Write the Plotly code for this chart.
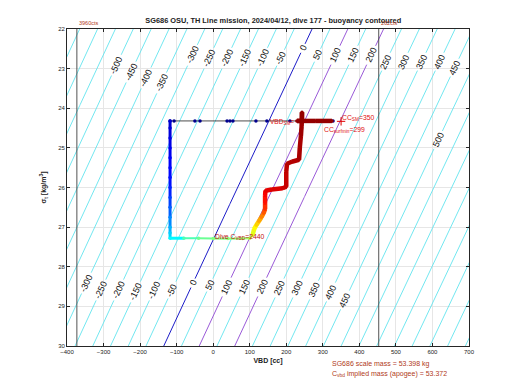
import numpy as np
import plotly.graph_objects as go
from plotly.colors import sample_colorscale

# ---------------- data ----------------
scale_mass_g = 53398.0      # glider scale mass (g)
hull_volume_cc = 51978.0    # volume at VBD = 0 (cc)

contour_levels = [-650, -600, -550, -500, -450, -400, -350, -300, -250, -200, -150, -100, -50,
                  0, 50, 100, 150, 200, 250, 300, 350, 400, 450, 500, 550, 600, 650, 700,
                  750, 800, 850, 900]

# contour label levels and the sigma at which each label sits
label_levels = [-500, -450, -400, -350, -300, -250, -200, -150, -100, -50, 0, 50, 100, 150, 200,
                250, 300, 350, 400, 450,
                -300, -250, -200, -150, -100, -50, 0, 50, 100, 150, 200, 250, 300, 350, 400, 450,
                500]
label_sigma = [22.91, 23.08, 23.24, 23.36, 22.66, 22.73, 22.73, 22.73, 22.73, 22.73, 22.48, 22.66,
               22.66, 22.66, 22.66, 22.83, 22.83, 22.83, 22.83, 22.98,
               28.41, 28.59, 28.59, 28.64, 28.59, 28.59, 28.41, 28.46, 28.51, 28.51, 28.51, 28.54,
               28.54, 28.59, 28.64, 28.84,
               24.80]

vbd_limits = [-373, 453]
vbd_limit_labels = ["3960cts", "262cts"]

# surface (start of dive): VBD bleed at the surface
surf_vbd = [328, 210, 147, 117, 54, 46, 38, -36, -50, -107, -118]
surf_sigma = [24.32, 24.32, 24.32, 24.32, 24.32, 24.32, 24.32, 24.32, 24.32, 24.32, 24.32]

# dive track after the surface bleed (vbd, sigma, normalised time)
track_vbd = [-118, -118, -118, -118, -118, -118, -118, -118, -118, -118, -118, -118, -118, -118,
             -80, -40, 0, 40, 80, 100,
             108, 112, 118, 125, 132, 138, 142, 142, 142, 143, 160, 190, 200, 200, 202, 215,
             235, 237, 240, 242, 243, 243, 229, 280, 325]
track_sigma = [24.32, 24.50, 24.75, 25.00, 25.25, 25.50, 25.75, 26.00, 26.25, 26.50, 26.75, 27.00,
               27.15, 27.28,
               27.28, 27.28, 27.29, 27.29, 27.29, 27.28,
               27.20, 27.05, 26.95, 26.85, 26.75, 26.65, 26.55, 26.40, 26.20, 26.08, 26.05, 26.02,
               25.98, 25.60, 25.40, 25.35, 25.30, 25.00, 24.70, 24.45, 24.10, 24.32, 24.32, 24.32,
               24.32]
track_time = [0.08, 0.09, 0.10, 0.11, 0.12, 0.13, 0.14, 0.16, 0.19, 0.22, 0.26, 0.30, 0.33, 0.37,
              0.45, 0.48, 0.50, 0.51, 0.52, 0.55,
              0.60, 0.63, 0.67, 0.71, 0.75, 0.79, 0.83, 0.86, 0.88, 0.90, 0.91, 0.92, 0.93, 0.94,
              0.95, 0.95, 0.96, 0.96, 0.97, 0.97, 0.98, 0.98, 0.98, 0.98, 0.98]

cc_sm = 350
cc_surfmin = 299
dive_c_vbd = 2440
apogee_implied_mass = 53.372

# ---------------- figure ----------------
JET = [[0.0, "rgb(0,0,128)"], [0.125, "rgb(0,0,255)"], [0.375, "rgb(0,255,255)"],
       [0.625, "rgb(255,255,0)"], [0.875, "rgb(255,0,0)"], [1.0, "rgb(128,0,0)"]]
LABEL_SIZE = 9.0


def vbd_of(level, sig):
    sig = np.asarray(sig, dtype=float)
    return (scale_mass_g + level) * 1000.0 / (1000.0 + sig) - hull_volume_cc


fig = go.Figure()
sig_line = np.linspace(21.5, 30.5, 361)
px_per_sigma_along = 43.8
for lev in contour_levels:
    if lev == 0:
        col, w = "#1c1cc8", 1.0
    elif lev in (100, 200):
        col, w = "#9a5ad8", 1.0
    else:
        col, w = "#62e4ee", 0.9
    xs = vbd_of(lev, sig_line).astype(float)
    for l2, s2 in zip(label_levels, label_sigma):
        if l2 == lev:
            txt = str(l2)
            length = LABEL_SIZE * (0.556 * sum(c.isdigit() for c in txt) + 0.33 * txt.count("-"))
            half = (length / 2 + 2.0) / px_per_sigma_along
            xs[np.abs(sig_line - s2) < half] = np.nan
    fig.add_trace(go.Scatter(x=xs, y=sig_line, mode="lines", connectgaps=False,
                             line=dict(color=col, width=w), hoverinfo="skip", showlegend=False))

for xv in vbd_limits:
    fig.add_trace(go.Scatter(x=[xv, xv], y=[22, 30], mode="lines",
                             line=dict(color="#404040", width=0.9), showlegend=False))

# surface start
fig.add_trace(go.Scatter(x=surf_vbd, y=surf_sigma, mode="lines+markers",
                         line=dict(color="#202020", width=0.8),
                         marker=dict(color="#00008f", size=3.5), showlegend=False))

# coloured track
cols = sample_colorscale(JET, track_time)
for i in range(len(track_vbd) - 1):
    t = track_time[i]
    w = 3.0 if t < 0.4 else (2.0 if t < 0.56 else 4.5)
    fig.add_trace(go.Scatter(x=track_vbd[i:i + 2], y=track_sigma[i:i + 2], mode="lines",
                             line=dict(color=cols[i], width=w), hoverinfo="skip",
                             showlegend=False))
fig.add_trace(go.Scatter(x=track_vbd, y=track_sigma, mode="markers",
                         marker=dict(color=track_time, colorscale=JET, cmin=0, cmax=1,
                                     size=3.5), showlegend=False))

# marker for SM value
fig.add_trace(go.Scatter(x=[cc_sm], y=[24.33], mode="markers",
                         marker=dict(symbol="cross-thin", size=6, line=dict(color="#e00000", width=1)),
                         showlegend=False))

annotations = []
for lev, s in zip(label_levels, label_sigma):
    annotations.append(dict(x=float(vbd_of(lev, s)), y=s, xref="x", yref="y", text=str(lev),
                            showarrow=False, textangle=-65,
                            font=dict(family="Liberation Sans", size=LABEL_SIZE, color="#111111")))

for xv, lab in zip(vbd_limits, vbd_limit_labels):
    annotations.append(dict(x=xv, y=1.0, xref="x", yref="paper", text=lab, showarrow=False,
                            xanchor="left", yanchor="bottom", yshift=1,
                            font=dict(family="Liberation Sans", size=5.5, color="#b03a1a")))

red = "#e01010"
annotations += [
    dict(x=cc_sm - 4, y=24.24, xref="x", yref="y", xanchor="left", yanchor="middle",
         text="CC<sub>SM</sub>=%d" % cc_sm, showarrow=False,
         font=dict(family="Liberation Sans", size=6.8, color=red)),
    dict(x=cc_surfmin - 2, y=24.56, xref="x", yref="y", xanchor="left", yanchor="middle",
         text="CC<sub>surfmin</sub>=%d" % cc_surfmin, showarrow=False,
         font=dict(family="Liberation Sans", size=6.8, color=red)),
    dict(x=150, y=24.34, xref="x", yref="y", xanchor="left", yanchor="middle",
         text="VBD<sub>SM</sub>=", showarrow=False,
         font=dict(family="Liberation Sans", size=6.5, color=red)),
    dict(x=0, y=27.24, xref="x", yref="y", xanchor="left", yanchor="middle",
         text="Dive C<sub>VBD</sub>=%d" % dive_c_vbd, showarrow=False,
         font=dict(family="Liberation Sans", size=6.8, color="#c01010")),
    dict(x=0.654, y=-0.058, xref="paper", yref="paper", xanchor="left", yanchor="middle",
         text="SG686 scale mass = %.3f kg" % (scale_mass_g / 1000), showarrow=False,
         font=dict(family="Liberation Sans", size=7, color="#b03a1a")),
    dict(x=0.654, y=-0.088, xref="paper", yref="paper", xanchor="left", yanchor="middle",
         text="C<sub>vbd</sub> implied mass (apogee) = %.3f" % apogee_implied_mass,
         showarrow=False, font=dict(family="Liberation Sans", size=7, color="#b03a1a")),
]

axis_common = dict(showline=True, linecolor="#262626", linewidth=0.8, mirror="ticks",
                   ticks="inside", ticklen=3, tickcolor="#262626", showgrid=True,
                   gridcolor="#e6e6e6", gridwidth=0.6, zeroline=False,
                   tickfont=dict(family="Liberation Sans", size=6, color="#222222"))

fig.update_layout(
    width=512, height=382,
    margin=dict(l=59, r=51, t=21, b=44),
    paper_bgcolor="white", plot_bgcolor="white",
    title=dict(text="<b>SG686 OSU, TH Line mission, 2024/04/12, dive 177 - buoyancy contoured</b>",
               x=0.518, xanchor="center", y=1 - 12.0 / 382, yanchor="middle",
               font=dict(family="Liberation Sans", size=7.4, color="#222222")),
    xaxis=dict(range=[-400, 700], dtick=100, tick0=0,
               title=dict(text="<b>VBD [cc]</b>", standoff=4,
                          font=dict(family="Liberation Sans", size=7, color="#222222")),
               **axis_common),
    yaxis=dict(range=[30, 22], dtick=1,
               title=dict(text="<b>σ<sub>t</sub> [kg/m<sup>3</sup>]</b>", standoff=10,
                          font=dict(family="Liberation Sans", size=7, color="#222222")),
               **axis_common),
    annotations=annotations,
    showlegend=False,
)

fig.write_html("out.html")
